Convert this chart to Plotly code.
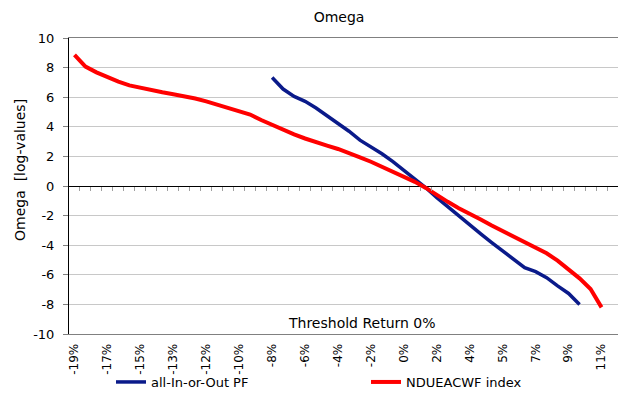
import plotly.graph_objects as go

# Omega ratio (log-values) per threshold-return category, 50 categories on the x axis
n_categories = 50
index_omega = [8.86, 8.07, 7.68, 7.35, 7.05, 6.80, 6.62, 6.45, 6.33, 6.20,
               6.07, 5.91, 5.72, 5.50, 5.27, 5.05, 4.83, 4.46, 4.12, 3.80,
               3.49, 3.21, 2.94, 2.73, 2.50, 2.24, 1.94, 1.64, 1.31, 0.97,
               0.64, 0.28, -0.13, -0.62, -1.07, -1.50, -1.85, -2.26, -2.67, -3.04,
               -3.40, -3.76, -4.13, -4.55, -5.04, -5.62, -6.24, -6.96, -8.20, None]
pf_start = 18
pf_omega = [7.33, 6.55, 6.05, 5.72, 5.27, 4.75, 4.25, 3.70, 3.10, 2.66,
            2.18, 1.65, 1.06, 0.47, -0.12, -0.79, -1.41, -2.04, -2.64, -3.23,
            -3.82, -4.40, -4.98, -5.52, -5.79, -6.19, -6.75, -7.26, -8.00]

x_labels = ["-19%", "-17%", "-15%", "-13%", "-12%", "-10%", "-8%", "-6%", "-4%",
            "-2%", "0%", "2%", "4%", "5%", "7%", "9%", "11%"]
label_step = 3
y_ticks = [10, 8, 6, 4, 2, 0, -2, -4, -6, -8, -10]

x_all = list(range(n_categories))
pf_series = [None] * pf_start + pf_omega
pf_series += [None] * (n_categories - len(pf_series))

FONT = "DejaVu Sans"

fig = go.Figure()
fig.add_trace(go.Scatter(x=x_all, y=pf_series, mode="lines", name="all-In-or-Out PF",
                         line=dict(color="#0a1a8a", width=3.5), hoverinfo="skip"))
fig.add_trace(go.Scatter(x=x_all, y=index_omega, mode="lines", name="NDUEACWF index",
                         line=dict(color="#ff0000", width=4), hoverinfo="skip"))
# carrier trace for the category tick marks along y = 0
fig.add_trace(go.Scatter(x=x_all, y=index_omega, mode="lines", xaxis="x2",
                         line=dict(width=0), opacity=0, showlegend=False, hoverinfo="skip"))

x_range = [-0.5, n_categories - 0.5]
fig.update_layout(
    width=618, height=393,
    margin=dict(l=69, r=0, t=38, b=59, autoexpand=False),
    paper_bgcolor="white", plot_bgcolor="white",
    font=dict(family=FONT, size=13, color="#000000"),
    title=dict(text="Omega", x=339 / 618, xanchor="center", y=1 - 17 / 393, yanchor="middle",
               font=dict(family=FONT, size=14, color="#000000")),
    xaxis=dict(range=x_range, tickmode="array",
               tickvals=x_all[::label_step][:len(x_labels)], ticktext=x_labels,
               tickangle=-90, ticks="", showgrid=False, zeroline=False,
               showline=True, linecolor="#808080", linewidth=1, mirror=True,
               ticklabelstandoff=4, tickfont=dict(size=12), automargin=False),
    xaxis2=dict(range=x_range, overlaying="x", anchor="free", position=0.5,
                tickmode="array", tickvals=[i - 0.5 for i in range(1, n_categories + 1)],
                ticks="outside", ticklen=4, tickcolor="#a0a0a0", tickwidth=1,
                showticklabels=False, showgrid=False, zeroline=False, showline=False,
                automargin=False),
    yaxis=dict(range=[-10, 10], tickmode="array", tickvals=y_ticks,
               ticktext=[str(v) for v in y_ticks],
               showgrid=True, gridcolor="#c8c8c8", gridwidth=1,
               zeroline=True, zerolinecolor="#000000", zerolinewidth=1,
               showline=True, linecolor="#000000", linewidth=1,
               ticks="outside", ticklen=5, tickcolor="#808080",
               ticklabelstandoff=6, tickfont=dict(size=13), automargin=False),
    legend=dict(orientation="h", x=(111 - 69) / 549, xanchor="left",
                y=-(382 - 334) / 296, yanchor="middle",
                entrywidth=210, entrywidthmode="pixels",
                font=dict(size=13), bgcolor="rgba(0,0,0,0)"),
    annotations=[
        dict(text="Threshold Return 0%", xref="paper", yref="paper",
             x=(362 - 69) / 549, y=(334 - 323) / 296, xanchor="center", yanchor="middle",
             showarrow=False, font=dict(size=14)),
        dict(text="Omega  [log-values]", xref="paper", yref="paper",
             x=(20 - 69) / 549, y=(334 - 170) / 296, xanchor="center", yanchor="middle",
             textangle=-90, showarrow=False, font=dict(size=14)),
    ],
)

fig.write_html("out.html")
